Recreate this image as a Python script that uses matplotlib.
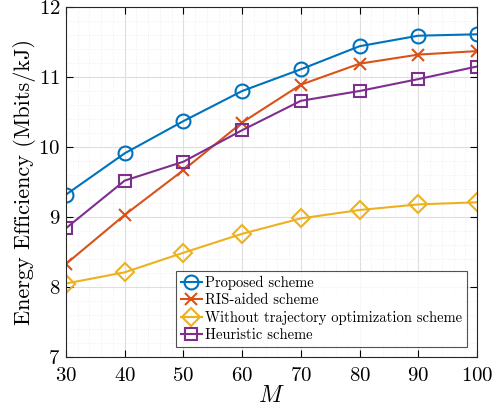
import matplotlib
matplotlib.use("Agg")
import matplotlib.pyplot as plt
from matplotlib.ticker import MultipleLocator

plt.rcParams['font.family'] = ['cmr10', 'DejaVu Serif']
plt.rcParams['mathtext.fontset'] = 'cm'
plt.rcParams['axes.formatter.use_mathtext'] = True

M = [30, 40, 50, 60, 70, 80, 90, 100]
proposed = [9.32, 9.91, 10.37, 10.80, 11.11, 11.44, 11.59, 11.61]
ris_aided = [8.33, 9.03, 9.67, 10.35, 10.89, 11.19, 11.32, 11.37]
without_traj = [8.05, 8.21, 8.49, 8.76, 8.98, 9.10, 9.18, 9.21]
heuristic = [8.84, 9.52, 9.79, 10.24, 10.66, 10.80, 10.97, 11.15]

labels = ["Proposed scheme", "RIS-aided scheme",
          "Without trajectory optimization scheme", "Heuristic scheme"]
colors = ["#0072BD", "#D95319", "#EDB120", "#7E2F8E"]
markers = ["o", "x", "D", "s"]
sizes = [10, 8, 9, 9]

fig = plt.figure(figsize=(5.02, 4.11), dpi=100)
ax = fig.add_axes([66/502, 1-357/411, (477-66)/502, (357-7)/411])

for y, lab, c, mk, ms in zip([proposed, ris_aided, without_traj, heuristic],
                             labels, colors, markers, sizes):
    ax.plot(M, y, color=c, marker=mk, markersize=ms, markerfacecolor='none',
            markeredgewidth=1.5, linewidth=1.5, label=lab)

ax.set_xlim(30, 100)
ax.set_ylim(7, 12)
ax.xaxis.set_major_locator(MultipleLocator(10))
ax.yaxis.set_major_locator(MultipleLocator(1))
ax.xaxis.set_minor_locator(MultipleLocator(2))
ax.yaxis.set_minor_locator(MultipleLocator(0.2))
ax.grid(which='major', color='#dedede', linewidth=0.8)
ax.grid(which='minor', color='#ececec', linewidth=0.6, linestyle=':')
ax.set_axisbelow(True)
ax.tick_params(which='both', direction='in', top=True, right=True, labelsize=15)
ax.tick_params(axis='x', which='major', pad=7)
ax.tick_params(axis='y', which='major', pad=4)
ax.tick_params(which='major', length=5)
ax.tick_params(which='minor', length=0)
for s in ax.spines.values():
    s.set_linewidth(0.8)
    s.set_color('#262626')

ax.set_xlabel(r'$M$', fontsize=17, labelpad=0)
ax.set_ylabel('Energy Efficiency (Mbits/kJ)', fontsize=16)
ax.yaxis.set_label_coords(-0.072, 0.5)

leg = ax.legend(loc='lower right', bbox_to_anchor=(0.975, 0.03), fontsize=10.5,
                frameon=True, fancybox=False, edgecolor='#262626',
                handlelength=1.5, handletextpad=0.2, borderpad=0.3,
                labelspacing=0.25, borderaxespad=0.0)
leg.get_frame().set_linewidth(0.8)

fig.savefig("out.png", dpi=100)
